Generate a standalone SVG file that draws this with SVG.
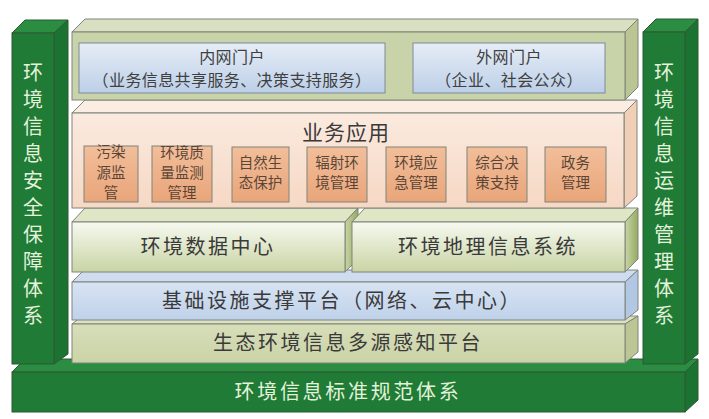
<svg xmlns="http://www.w3.org/2000/svg" width="709" height="419" viewBox="0 0 709 419">
<defs>
<linearGradient id="gPortal" x1="0" y1="0" x2="0" y2="1"><stop offset="0" stop-color="#e6edf6"/><stop offset="1" stop-color="#bccfe8"/></linearGradient>
<linearGradient id="gPeach" x1="0" y1="0" x2="0" y2="1"><stop offset="0" stop-color="#fbeadf"/><stop offset="1" stop-color="#f6d8c4"/></linearGradient>
<linearGradient id="gOrange" x1="0" y1="0" x2="0" y2="1"><stop offset="0" stop-color="#f2be9a"/><stop offset="1" stop-color="#e9a57a"/></linearGradient>
<linearGradient id="gL3" x1="0" y1="0" x2="0" y2="1"><stop offset="0" stop-color="#f7f9f0"/><stop offset="1" stop-color="#c8d4a4"/></linearGradient>
<linearGradient id="gL3side" x1="0" y1="0" x2="1" y2="0"><stop offset="0" stop-color="#c9d5a6"/><stop offset="1" stop-color="#96aa62"/></linearGradient>
<linearGradient id="gBlue" x1="0" y1="0" x2="0" y2="1"><stop offset="0" stop-color="#d8e3f3"/><stop offset="1" stop-color="#bfd2ea"/></linearGradient>
<linearGradient id="gL5" x1="0" y1="0" x2="0" y2="1"><stop offset="0" stop-color="#d7deb9"/><stop offset="1" stop-color="#cbd3a7"/></linearGradient>
</defs>
<style>
.e{stroke:#7f847b;stroke-width:1}
.g{stroke:#2d5a34;stroke-width:1}
.gf{fill:#1f7b35}.gt{fill:#2b8d41}.gs{fill:#1c7231}
.t{font-family:"Noto Sans CJK SC","Noto Sans",sans-serif;fill:#3a3a3a;text-anchor:middle}
.big{font-size:20px;letter-spacing:2.5px}
.pt{font-size:16px;fill:#404040;letter-spacing:0.4px}
.sb{font-size:14.5px;fill:#5b4636}
.w{font-family:"Noto Sans CJK SC","Noto Sans",sans-serif;fill:#e4f2dc;text-anchor:middle;font-size:20px}
</style>
<rect width="709" height="419" fill="#ffffff"/>

<g id="standards-bar">
<polygon class="g gt" points="12,372 25,359 698,359 685,372"/>
<polygon class="g gs" points="685,372 698,359 698,400 685,412"/>
<rect class="g gf" x="12" y="372" width="673" height="40"/>
<text class="w" x="348" y="399" style="letter-spacing:2.7px">环境信息标准规范体系</text>
</g>

<g id="security-pillar">
<polygon class="g gt" points="12,33 25,20 68,20 54,33"/>
<polygon class="g gs" points="54,33 68,20 68,354 54,364"/>
<rect class="g gf" x="12" y="33" width="42" height="331"/>
<text class="w"><tspan x="33" y="80">环</tspan><tspan x="33" y="107">境</tspan><tspan x="33" y="134">信</tspan><tspan x="33" y="161">息</tspan><tspan x="33" y="188">安</tspan><tspan x="33" y="215">全</tspan><tspan x="33" y="242">保</tspan><tspan x="33" y="269">障</tspan><tspan x="33" y="296">体</tspan><tspan x="33" y="323">系</tspan></text>
</g>

<g id="ops-pillar">
<polygon class="g gt" points="643,32 656,19 698,19 685,32"/>
<polygon class="g gs" points="685,32 698,19 698,354 685,364"/>
<rect class="g gf" x="643" y="32" width="42" height="332"/>
<text class="w"><tspan x="664" y="80">环</tspan><tspan x="664" y="107">境</tspan><tspan x="664" y="134">信</tspan><tspan x="664" y="161">息</tspan><tspan x="664" y="188">运</tspan><tspan x="664" y="215">维</tspan><tspan x="664" y="242">管</tspan><tspan x="664" y="269">理</tspan><tspan x="664" y="296">体</tspan><tspan x="664" y="323">系</tspan></text>
</g>

<g id="sensing-platform">
<polygon class="e" fill="#dbe1c1" points="72,324 82,316 638,316 625,324"/>
<polygon class="e" fill="#bcc594" points="625,324 638,316 638,352 625,363"/>
<rect class="e" fill="url(#gL5)" x="72" y="324" width="553" height="39"/>
<text class="t big" x="348" y="350">生态环境信息多源感知平台</text>
</g>

<g id="infrastructure-platform">
<polygon class="e" fill="#cfdcef" points="72,282 84,270 638,270 625,282"/>
<polygon class="e" fill="#b2c7e4" points="625,282 638,270 638,310 625,320"/>
<rect class="e" fill="url(#gBlue)" x="72" y="282" width="553" height="38"/>
<text class="t big" x="342" y="308">基础设施支撑平台（网络、云中心）</text>
</g>

<g id="data-center">
<polygon class="e" fill="#dfe6c6" points="72,222 85,208 358,208 345,222"/>
<polygon class="e" fill="url(#gL3side)" points="345,222 358,208 358,259 345,272"/>
<rect class="e" fill="url(#gL3)" x="72" y="222" width="273" height="50"/>
<text class="t big" x="208" y="254">环境数据中心</text>
</g>

<g id="gis">
<polygon class="e" fill="#dfe6c6" points="352,222 365,208 638,208 625,222"/>
<polygon class="e" fill="url(#gL3side)" points="625,222 638,208 638,259 625,272"/>
<rect class="e" fill="url(#gL3)" x="352" y="222" width="273" height="50"/>
<text class="t big" x="488" y="254">环境地理信息系统</text>
</g>

<g id="business-apps">
<polygon class="e" fill="#fcede2" points="72,113 85,100 637,100 624,113"/>
<polygon class="e" fill="#f1cfb6" points="624,113 637,100 637,196 624,208"/>
<rect class="e" fill="url(#gPeach)" x="72" y="113" width="552" height="95"/>
<text class="t" x="346" y="140" style="font-size:21px;letter-spacing:1px">业务应用</text>
</g>

<g id="app-pollution">
<rect class="e" fill="url(#gOrange)" x="84" y="146" width="54" height="56"/>
<text class="t sb"><tspan x="111" y="157">污染</tspan><tspan x="111" y="178">源监</tspan><tspan x="111" y="198">管</tspan></text>
</g>
<g id="app-quality">
<rect class="e" fill="url(#gOrange)" x="152" y="146" width="60" height="56"/>
<text class="t sb"><tspan x="182" y="158">环境质</tspan><tspan x="182" y="178">量监测</tspan><tspan x="182" y="198">管理</tspan></text>
</g>
<g id="app-ecology">
<rect class="e" fill="url(#gOrange)" x="232" y="147" width="57" height="55"/>
<text class="t sb"><tspan x="260.5" y="168">自然生</tspan><tspan x="260.5" y="188">态保护</tspan></text>
</g>
<g id="app-radiation">
<rect class="e" fill="url(#gOrange)" x="307" y="147" width="60" height="55"/>
<text class="t sb"><tspan x="337" y="168">辐射环</tspan><tspan x="337" y="188">境管理</tspan></text>
</g>
<g id="app-emergency">
<rect class="e" fill="url(#gOrange)" x="386" y="147" width="60" height="55"/>
<text class="t sb"><tspan x="416" y="168">环境应</tspan><tspan x="416" y="188">急管理</tspan></text>
</g>
<g id="app-decision">
<rect class="e" fill="url(#gOrange)" x="467" y="147" width="60" height="55"/>
<text class="t sb"><tspan x="497" y="168">综合决</tspan><tspan x="497" y="188">策支持</tspan></text>
</g>
<g id="app-government">
<rect class="e" fill="url(#gOrange)" x="545" y="147" width="61" height="55"/>
<text class="t sb"><tspan x="575.5" y="168">政务</tspan><tspan x="575.5" y="188">管理</tspan></text>
</g>

<g id="portal-layer">
<polygon class="e" fill="#d9e0c1" points="72,32 85,19 638,19 625,32"/>
<polygon class="e" fill="#b9c592" points="625,32 638,19 638,87 625,100"/>
<rect class="e" fill="#c9d3a9" x="72" y="32" width="553" height="68"/>
</g>
<g id="intranet-portal">
<rect fill="url(#gPortal)" stroke="#7f8a99" x="79" y="43" width="306" height="50"/>
<text class="t pt"><tspan x="232" y="63">内网门户</tspan><tspan x="232" y="86">（业务信息共享服务、决策支持服务）</tspan></text>
</g>
<g id="extranet-portal">
<rect fill="url(#gPortal)" stroke="#7f8a99" x="413" y="43" width="192" height="50"/>
<text class="t pt"><tspan x="509" y="63">外网门户</tspan><tspan x="509" y="86">（企业、社会公众）</tspan></text>
</g>
<g id="connectors"/>
</svg>
